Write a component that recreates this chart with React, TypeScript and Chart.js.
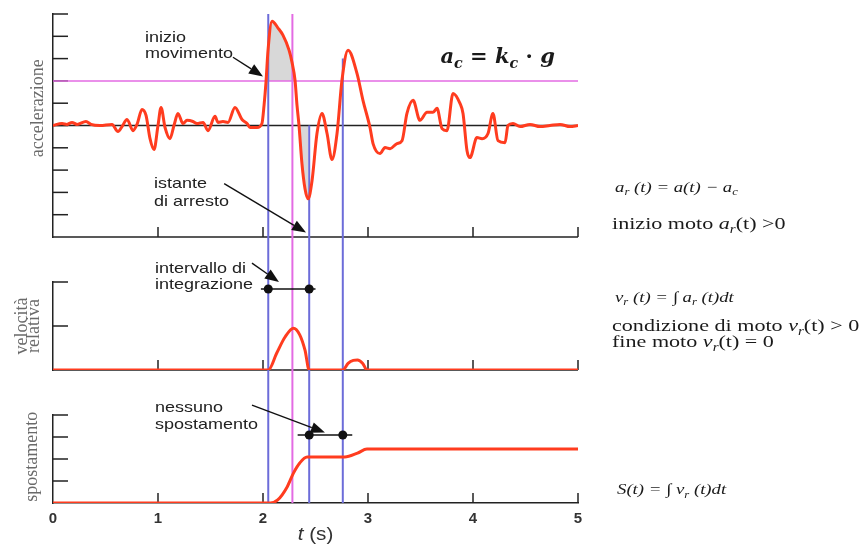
import React, { useEffect, useRef } from 'react';
import { Chart, registerables } from 'chart.js';

Chart.register(...registerables);

// ---------------- data ----------------
const accelT = [0, 0.086, 0.133, 0.181, 0.229, 0.314, 0.362, 0.448, 0.562, 0.619, 0.657, 0.705, 0.762, 0.8, 0.848, 0.886, 0.924, 0.962, 1.0, 1.029, 1.067, 1.114, 1.152, 1.19, 1.238, 1.276, 1.333, 1.371, 1.429, 1.476, 1.543, 1.571, 1.619, 1.667, 1.733, 1.8, 1.848, 1.876, 1.943, 1.99, 2.01, 2.029, 2.048, 2.086, 2.143, 2.19, 2.248, 2.276, 2.305, 2.324, 2.343, 2.371, 2.4, 2.429, 2.467, 2.514, 2.562, 2.61, 2.657, 2.705, 2.752, 2.81, 2.895, 2.952, 3.019, 3.048, 3.114, 3.162, 3.21, 3.276, 3.324, 3.371, 3.429, 3.495, 3.562, 3.619, 3.657, 3.705, 3.752, 3.81, 3.876, 3.905, 3.943, 3.971, 4.038, 4.086, 4.143, 4.19, 4.238, 4.305, 4.333, 4.381, 4.448, 4.543, 4.638, 4.733, 4.829, 4.924, 5.0];
const accelA = [0, 0.09, 0.05, 0.14, 0.05, 0.18, 0.05, 0, 0.05, -0.27, -0.05, 0.27, -0.23, 0.05, 0.72, 0.45, -0.59, -1.08, 0, 0.81, -0.09, -0.59, 0, 0.54, 0.09, 0.23, 0.18, 0.09, 0.14, -0.23, 0.41, 0.14, 0.18, 0.14, 0.81, 0.27, 0.09, -0.09, -0.09, 0.09, 0.9, 1.98, 3.38, 4.68, 4.37, 4.05, 3.38, 2.84, 2.03, 0.9, 0, -1.71, -2.84, -3.29, -2.48, -0.36, 0.54, -0.36, -1.53, -0.36, 2.03, 3.38, 2.34, 1.13, -0.09, -0.81, -1.26, -0.99, -1.04, -0.81, -0.68, 0.54, 1.13, 0.23, 0.59, 0.59, 0.77, -0.14, -0.23, 1.44, 0.99, 0.54, -1.13, -1.44, -0.54, -0.59, -0.36, 0.54, -0.68, -0.77, 0, 0.09, -0.05, 0.05, -0.05, 0, 0.05, -0.05, 0];

const velT = [0, 2.05, 2.13, 2.21, 2.29, 2.35, 2.4, 2.44, 2.76, 2.81, 2.86, 2.9, 2.95, 2.99, 5];
const velV = [0, 0, 0.38, 0.75, 0.95, 0.8, 0.45, 0, 0, 0.15, 0.22, 0.23, 0.15, 0, 0];

const dispT = [0, 2.07, 2.14, 2.23, 2.29, 2.35, 2.42, 2.45, 2.78, 2.9, 2.99, 5];
const dispS = [0, 0, 0.14, 0.73, 1.36, 1.82, 2.09, 2.09, 2.09, 2.27, 2.45, 2.45];

const xTickLabels = ['0', '1', '2', '3', '4', '5'];
const acLevel = 2;
const vLineT = [2.05, 2.28, 2.44, 2.76];
const vLineTop = [5, 5, 0, 3];
const vLineKind = ['blue', 'magenta', 'blue', 'blue'];
const shadeAbove = [2.029, 2.305];
const shadeBelow = [2.343, 2.429];

// ---------------- styles ----------------
const RED = '#ff3c1f';
const BLUE = '#6c6cd9';
const MAGENTA = '#e36be3';
const GRAY = '#d8d8d8';
const AX = '#222222';
const SANS = '"Liberation Sans", Arial, sans-serif';
const SERIF = '"Liberation Serif", "Times New Roman", serif';

type Run = { t: string; it?: boolean; b?: boolean; sub?: boolean };

function fontFor(r: Run, size: number, family: string) {
  const fs = r.sub ? size * 0.68 : size;
  return `${r.it ? 'italic ' : ''}${r.b ? 'bold ' : ''}${fs}px ${family}`;
}

function measureRuns(ctx: CanvasRenderingContext2D, runs: Run[], size: number, family: string, sx: number) {
  let w = 0;
  for (const r of runs) {
    ctx.font = fontFor(r, size, family);
    w += ctx.measureText(r.t).width;
  }
  return w * sx;
}

function drawRuns(ctx: CanvasRenderingContext2D, runs: Run[], x: number, y: number, size: number, family: string, color: string, sx = 1.2) {
  ctx.save();
  ctx.translate(x, y);
  ctx.scale(sx, 1);
  ctx.fillStyle = color;
  ctx.textAlign = 'left';
  ctx.textBaseline = 'alphabetic';
  let cx = 0;
  for (const r of runs) {
    ctx.font = fontFor(r, size, family);
    ctx.fillText(r.t, cx, r.sub ? size * 0.24 : 0);
    cx += ctx.measureText(r.t).width;
  }
  ctx.restore();
}

function seg(ctx: CanvasRenderingContext2D, x1: number, y1: number, x2: number, y2: number, color: string, w: number) {
  ctx.strokeStyle = color;
  ctx.lineWidth = w;
  ctx.beginPath();
  ctx.moveTo(x1, y1);
  ctx.lineTo(x2, y2);
  ctx.stroke();
}

function arrow(ctx: CanvasRenderingContext2D, x1: number, y1: number, x2: number, y2: number) {
  const ang = Math.atan2(y2 - y1, x2 - x1);
  const L = 14, H = 5.5;
  const bx = x2 - L * Math.cos(ang), by = y2 - L * Math.sin(ang);
  seg(ctx, x1, y1, bx, by, '#111', 1.4);
  ctx.fillStyle = '#111';
  ctx.beginPath();
  ctx.moveTo(x2, y2);
  ctx.lineTo(bx + H * Math.sin(ang), by - H * Math.cos(ang));
  ctx.lineTo(bx - H * Math.sin(ang), by + H * Math.cos(ang));
  ctx.closePath();
  ctx.fill();
}

function dot(ctx: CanvasRenderingContext2D, x: number, y: number) {
  ctx.fillStyle = '#111';
  ctx.beginPath();
  ctx.arc(x, y, 4.5, 0, Math.PI * 2);
  ctx.fill();
}

function rotText(ctx: CanvasRenderingContext2D, text: string, xBase: number, yc: number) {
  ctx.save();
  ctx.translate(xBase, yc);
  ctx.rotate(-Math.PI / 2);
  ctx.font = `18px ${SERIF}`;
  ctx.fillStyle = '#6a6a6a';
  ctx.textAlign = 'center';
  ctx.textBaseline = 'alphabetic';
  ctx.fillText(text, 0, 0);
  ctx.restore();
}

const overlay = {
  id: 'overlay',
  beforeDatasetsDraw(chart: any) {
    const { ctx, scales } = chart;
    const x = scales.x, yA = scales.yA, yV = scales.yV, yS = scales.yS;
    ctx.save();
    ctx.lineCap = 'butt';
    // bottom axis lines of upper panels
    for (const sc of [yA, yV]) {
      const yb = sc.getPixelForValue(sc.min);
      seg(ctx, x.left, yb, x.right, yb, AX, 1.5);
    }
    // upward x tick marks in every panel
    for (const sc of [yA, yV, yS]) {
      const yb = sc.getPixelForValue(sc.min);
      for (const tk of x.ticks) {
        if (tk.value === x.min) continue;
        const px = x.getPixelForValue(tk.value);
        seg(ctx, px, yb, px, yb - 10, AX, 1.5);
      }
    }
    // inward y tick marks
    for (const sc of [yA, yV, yS]) {
      for (const tk of sc.ticks) {
        if (tk.value === sc.min) continue;
        const py = sc.getPixelForValue(tk.value);
        seg(ctx, x.left, py, x.left + 15, py, AX, 1.5);
      }
    }
    ctx.restore();
  },
  beforeDatasetDraw(chart: any, args: any) {
    if (args.index !== 2) return;
    const { ctx, scales } = chart;
    const x = scales.x, yA = scales.yA, yS = scales.yS;
    ctx.save();
    const yb = yS.getPixelForValue(yS.min);
    vLineT.forEach((t, i) => {
      const px = x.getPixelForValue(t);
      const col = vLineKind[i] === 'blue' ? BLUE : MAGENTA;
      seg(ctx, px, yA.getPixelForValue(vLineTop[i]), px, yb, col, 2);
    });
    ctx.restore();
  },
  afterDraw(chart: any) {
    const { ctx, scales, chartArea } = chart;
    const x = scales.x, yA = scales.yA, yV = scales.yV, yS = scales.yS;
    const X = (t: number) => x.getPixelForValue(t);
    ctx.save();

    // annotation texts
    const ann: [string, number, any, number][] = [
      ['inizio', 0.876, yA, 3.74],
      ['movimento', 0.876, yA, 3.02],
      ['istante', 0.962, yA, -2.79],
      ['di arresto', 0.962, yA, -3.6],
      ['intervallo di', 0.971, yV, 2.2],
      ['integrazione', 0.971, yV, 1.84],
      ['nessuno', 0.971, yS, 4.14],
      ['spostamento', 0.971, yS, 3.36],
    ];
    for (const [txt, t, sc, v] of ann) {
      drawRuns(ctx, [{ t: txt }], X(t), sc.getPixelForValue(v), 15, SANS, '#222', 1.2);
    }

    // arrows
    arrow(ctx, X(1.714), yA.getPixelForValue(3.06), X(2.0), yA.getPixelForValue(2.2));
    arrow(ctx, X(1.63), yA.getPixelForValue(-2.61), X(2.41), yA.getPixelForValue(-4.8));
    arrow(ctx, X(1.895), yV.getPixelForValue(2.43), X(2.152), yV.getPixelForValue(2.0));
    arrow(ctx, X(1.895), yS.getPixelForValue(4.45), X(2.59), yS.getPixelForValue(3.2));

    // interval markers
    const yI = yV.getPixelForValue(1.84);
    seg(ctx, X(1.98), yI, X(2.5), yI, '#111', 1.5);
    dot(ctx, X(vLineT[0]), yI);
    dot(ctx, X(vLineT[2]), yI);
    const yN = yS.getPixelForValue(3.09);
    seg(ctx, X(2.33), yN, X(2.85), yN, '#111', 1.5);
    dot(ctx, X(vLineT[2]), yN);
    dot(ctx, X(vLineT[3]), yN);

    // a_c = k_c · g
    drawRuns(ctx, [
      { t: 'a', it: true, b: true }, { t: 'c', it: true, b: true, sub: true },
      { t: ' = ', b: true },
      { t: 'k', it: true, b: true }, { t: 'c', it: true, b: true, sub: true },
      { t: ' · ', b: true },
      { t: 'g', it: true, b: true },
    ], X(3.69), yA.getPixelForValue(2.79), 21, '"DejaVu Serif", serif', '#1a1a1a', 1);

    // right side formulas
    const rx = chartArea.right + 37;
    const rx2 = chartArea.right + 34;
    drawRuns(ctx, [
      { t: 'a', it: true }, { t: 'r', it: true, sub: true }, { t: ' (t) = a(t) − a', it: true }, { t: 'c', it: true, sub: true },
    ], rx, yA.getPixelForValue(-2.97), 15, SERIF, '#1a1a1a', 1.25);
    drawRuns(ctx, [
      { t: 'inizio moto ' }, { t: 'a', it: true }, { t: 'r', it: true, sub: true }, { t: '(t) >0' },
    ], rx2, yA.getPixelForValue(-4.64), 17, SERIF, '#1a1a1a', 1.3);
    drawRuns(ctx, [
      { t: 'v', it: true }, { t: 'r', it: true, sub: true }, { t: ' (t) = ∫ a', it: true }, { t: 'r', it: true, sub: true }, { t: ' (t)dt', it: true },
    ], rx, yV.getPixelForValue(1.55), 15, SERIF, '#1a1a1a', 1.25);
    drawRuns(ctx, [
      { t: 'condizione di moto ' }, { t: 'v', it: true }, { t: 'r', it: true, sub: true }, { t: '(t) > 0' },
    ], rx2, yV.getPixelForValue(0.89), 17, SERIF, '#1a1a1a', 1.3);
    drawRuns(ctx, [
      { t: 'fine moto ' }, { t: 'v', it: true }, { t: 'r', it: true, sub: true }, { t: '(t) = 0' },
    ], rx2, yV.getPixelForValue(0.52), 17, SERIF, '#1a1a1a', 1.3);
    drawRuns(ctx, [
      { t: 'S(t) = ∫ v', it: true }, { t: 'r', it: true, sub: true }, { t: ' (t)dt', it: true },
    ], chartArea.right + 39, yS.getPixelForValue(0.41), 15, SERIF, '#1a1a1a', 1.25);

    // y axis titles
    rotText(ctx, 'accelerazione', chartArea.left - 10, yA.getPixelForValue(0.77));
    rotText(ctx, 'velocità', chartArea.left - 26, yV.getPixelForValue(1.0));
    rotText(ctx, 'relativa', chartArea.left - 14, yV.getPixelForValue(1.0));
    rotText(ctx, 'spostamento', chartArea.left - 16, yS.getPixelForValue(2.1));

    // x axis title  t (s)
    const tRuns: Run[] = [{ t: 't', it: true }, { t: ' (s)' }];
    const w = measureRuns(ctx, tRuns, 18, SANS, 1.15);
    drawRuns(ctx, tRuns, X(2.5) - w / 2, x.bottom - 4, 18, SANS, '#333', 1.15);

    ctx.restore();
  },
};

function pts(t: number[], v: number[]) {
  return t.map((xv, i) => ({ x: xv, y: v[i] }));
}

export default function App() {
  const ref = useRef<HTMLCanvasElement>(null);

  useEffect(() => {
    if (!ref.current) return;
    const accelPts = pts(accelT, accelA);
    const hidden = { display: false };
    const yBase = (min: number, max: number, weight: number, stackWeight: number) => ({
      type: 'linear', axis: 'y', position: 'left', stack: 'panels', stackWeight, weight,
      min, max,
      ticks: { display: false, stepSize: 1 },
      grid: { drawOnChartArea: false, drawTicks: false },
      border: { display: true, color: AX, width: 1.5 },
      afterFit: (s: any) => { s.width = 10; },
    });
    const chart = new Chart(ref.current, {
      type: 'line',
      data: {
        datasets: [
          { data: accelPts, yAxisID: 'yA', borderColor: RED, borderWidth: 3, pointRadius: 0, cubicInterpolationMode: 'monotone', fill: false },
          { data: pts(velT, velV), yAxisID: 'yV', borderColor: RED, borderWidth: 3, pointRadius: 0, cubicInterpolationMode: 'monotone', fill: false },
          { data: pts(dispT, dispS), yAxisID: 'yS', borderColor: RED, borderWidth: 3, pointRadius: 0, cubicInterpolationMode: 'monotone', fill: false },
          { data: [{ x: 0, y: 0 }, { x: 5, y: 0 }], yAxisID: 'yA', borderColor: AX, borderWidth: 1.5, pointRadius: 0, fill: false },
          { data: [{ x: 0, y: acLevel }, { x: 5, y: acLevel }], yAxisID: 'yA', borderColor: MAGENTA, borderWidth: 1.5, pointRadius: 0, fill: false },
          { data: accelPts.filter(p => p.x >= shadeAbove[0] && p.x <= shadeAbove[1]), yAxisID: 'yA', borderColor: 'rgba(0,0,0,0)', borderWidth: 1, pointRadius: 0, cubicInterpolationMode: 'monotone', fill: { value: acLevel }, backgroundColor: GRAY },
          { data: accelPts.filter(p => p.x >= shadeBelow[0] && p.x <= shadeBelow[1]), yAxisID: 'yA', borderColor: 'rgba(0,0,0,0)', borderWidth: 1, pointRadius: 0, cubicInterpolationMode: 'monotone', fill: { value: 0 }, backgroundColor: GRAY },
        ] as any,
      },
      options: {
        animation: false,
        responsive: false,
        maintainAspectRatio: false,
        events: [],
        plugins: { legend: { display: false }, tooltip: { enabled: false } },
        layout: { padding: { left: 43, right: 288, top: 14, bottom: 0 } },
        scales: {
          x: {
            type: 'linear', min: 0, max: 5, position: 'bottom',
            ticks: { stepSize: 1, padding: 7, color: '#333', font: { family: SANS, size: 15, weight: 'bold' }, callback: (_v: any, i: number) => xTickLabels[i] },
            grid: { drawOnChartArea: false, drawTicks: false },
            border: { display: true, color: AX, width: 1.5 },
            afterFit: (s: any) => { s.height = 41; s.paddingLeft = 0; s.paddingRight = 0; },
          },
          yA: yBase(-5, 5, 5, 223),
          g1: { type: 'linear', axis: 'y', position: 'left', stack: 'panels', stackWeight: 45, weight: 4, min: 0, max: 1, ...hidden },
          yV: yBase(0, 2, 3, 88),
          g2: { type: 'linear', axis: 'y', position: 'left', stack: 'panels', stackWeight: 45, weight: 2, min: 0, max: 1, ...hidden },
          yS: yBase(0, 4, 1, 88),
        } as any,
      },
      plugins: [overlay as any],
    });
    return () => chart.destroy();
  }, []);

  return (
    <div style={{ position: 'absolute', left: 0, top: 0, width: 866, height: 544, background: '#fff' }}>
      <canvas ref={ref} width={866} height={544} style={{ display: 'block' }} />
    </div>
  );
}
